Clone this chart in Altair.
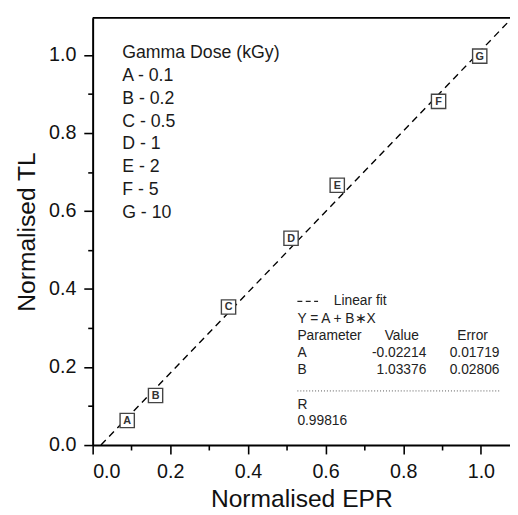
import altair as alt
import pandas as pd

# ---- data ----
letters = ["A", "B", "C", "D", "E", "F", "G"]
epr = [0.089, 0.162, 0.350, 0.511, 0.630, 0.891, 0.997]
tl = [0.063, 0.127, 0.354, 0.530, 0.666, 0.881, 0.997]

dose_title = "Gamma Dose (kGy)"
dose_values = ["0.1", "0.2", "0.5", "1", "2", "5", "10"]

fit_A = -0.02214
fit_B = 1.03376
fit_params = ["A", "B"]
fit_values = ["-0.02214", "1.03376"]
fit_errors = ["0.01719", "0.02806"]
fit_R = "0.99816"

tick_values = [0.0, 0.1, 0.2, 0.3, 0.4, 0.5, 0.6, 0.7, 0.8, 0.9, 1.0]

X_MAX = 1.075
Y_MAX = 1.095
W, H = 424, 434
FONT = "Liberation Sans"

pts = pd.DataFrame({"x": epr, "y": tl, "lab": letters})
one = pd.DataFrame({"k": [0]})  # single row for annotation marks
x0 = -fit_A / fit_B
fit_df = pd.DataFrame({"x": [x0, X_MAX], "y": [fit_A + fit_B * x0, fit_A + fit_B * X_MAX]})

label_expr = "round(datum.value*10)%2==0 ? format(datum.value,'.1f') : ''"
tick_size = {"condition": {"test": "round(datum.value*10)%2==1", "value": 5}, "value": 9}

xscale = alt.Scale(domain=[0, X_MAX], nice=False, zero=False)
yscale = alt.Scale(domain=[0, Y_MAX], nice=False, zero=False)

xaxis = alt.Axis(values=tick_values, labelExpr=label_expr, tickSize=tick_size,
                 labelFontSize=20, labelPadding=8, titleFontSize=25, titlePadding=5,
                 titleFontWeight="normal", labelOverlap=False, grid=False,
                 domainWidth=2, tickWidth=1.6, domainColor="black", tickColor="black",
                 labelColor="#111", titleColor="#111", labelFont=FONT, titleFont=FONT)
yaxis = alt.Axis(values=tick_values, labelExpr=label_expr, tickSize=tick_size,
                 labelFontSize=20, labelPadding=8, titleFontSize=25, titlePadding=9,
                 titleFontWeight="normal", labelOverlap=False, grid=False,
                 domainWidth=2, tickWidth=1.6, domainColor="black", tickColor="black",
                 labelColor="#111", titleColor="#111", labelFont=FONT, titleFont=FONT)

line = alt.Chart(fit_df).mark_line(color="black", strokeWidth=1.4, strokeDash=[7, 5], clip=True).encode(
    x=alt.X("x:Q", scale=xscale, axis=xaxis, title="Normalised EPR"),
    y=alt.Y("y:Q", scale=yscale, axis=yaxis, title="Normalised TL"),
)

squares = alt.Chart(pts).mark_point(shape="square", size=210, filled=True, fill="white",
                                    stroke="#444", strokeWidth=1.4, opacity=1).encode(
    x=alt.X("x:Q", scale=xscale), y=alt.Y("y:Q", scale=yscale))

labels = alt.Chart(pts).mark_text(fontSize=11, fontWeight="bold", color="#333", font=FONT,
                                  baseline="middle", align="center", dy=0.5).encode(
    x=alt.X("x:Q", scale=xscale), y=alt.Y("y:Q", scale=yscale), text="lab:N")

top_rule = alt.Chart(one).mark_rule(color="black", strokeWidth=2).encode(
    x=alt.value(0), x2=alt.value(W + 10), y=alt.value(0))

legend_text = "\n".join([dose_title] + [f"{l} - {v}" for l, v in zip(letters, dose_values)])
legend = alt.Chart(one).mark_text(align="left", baseline="top", fontSize=18, font=FONT,
                                  fontWeight="normal", lineBreak="\n", lineHeight=23.3,
                                  color="#1a1a1a").encode(
    x=alt.value(30), y=alt.value(26.5), text=alt.value(legend_text))

layers = [line, squares, labels, top_rule, legend]


def txt(s, x, y, align="left", size=14):
    return alt.Chart(one).mark_text(align=align, baseline="middle", fontSize=size, font=FONT,
                                    fontWeight="normal", color="#222").encode(
        x=alt.value(x), y=alt.value(y), text=alt.value(s))


# fit box
layers.append(alt.Chart(one).mark_rule(color="#222", strokeWidth=1.2, strokeDash=[5, 3.5]).encode(
    x=alt.value(208), x2=alt.value(229), y=alt.value(288)))
layers.append(txt("Linear fit", 245, 288))
layers.append(txt("Y = A + B\u2217X", 208, 306))
layers.append(txt("Parameter", 208, 323))
layers.append(txt("Value", 314, 323, "center"))
layers.append(txt("Error", 386, 323, "center"))
row_y = [341, 358]
for p, v, e, yy in zip(fit_params, fit_values, fit_errors, row_y):
    layers.append(txt(p, 208, yy))
    layers.append(txt(v, 339, yy, "right"))
    layers.append(txt(e, 388, yy, "center"))
layers.append(alt.Chart(one).mark_rule(color="#555", strokeWidth=1, strokeDash=[1, 2]).encode(
    x=alt.value(208), x2=alt.value(413), y=alt.value(379)))
layers.append(txt("R", 208, 393))
layers.append(txt(fit_R, 208, 410))

chart = alt.layer(*layers).properties(
    width=W, height=H,
    autosize=alt.AutoSizeParams(type="none"),
    padding={"left": 86, "top": 6, "right": 0, "bottom": 66},
).configure_view(stroke=None).configure_axis(tickSize=9).configure(background="white")

chart.save("out.html", embed_options={"renderer": "svg", "actions": False})
